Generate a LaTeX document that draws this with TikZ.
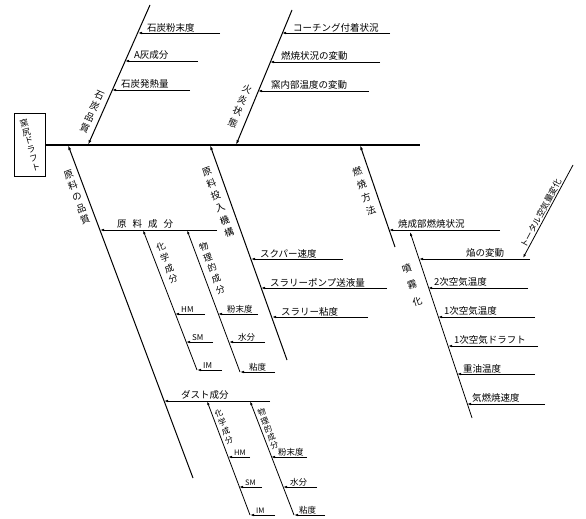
\documentclass[tikz,border=0pt]{standalone}
\usepackage{fontspec}
\setmainfont{Noto Sans CJK JP}
\usetikzlibrary{arrows.meta,positioning}
\tikzset{
    spine/.style={line width=1.3pt},
    bone/.style={line width=1pt, -{Latex[length=5pt,width=3pt]}},
    twig/.style={line width=0.8pt, -{Latex[length=4pt,width=2.6pt]}},
    lbl/.style={inner sep=1pt, font=\fontsize{9.5}{11}\selectfont},
    vlbl/.style={inner sep=0pt, align=center, font=\fontsize{9.5}{12}\selectfont}
}

\begin{document}
\begin{tikzpicture}[x=1pt, y=-1pt, node distance=0pt and 8pt]
    \useasboundingbox (0,0) rectangle (586,519);

    % Head
    \node[draw, line width=0.9pt, minimum width=31pt, minimum height=63pt, inner sep=0pt] (head) at (30,145) {};
    \node[vlbl, rotate=15, font=\fontsize{8.5}{9.2}\selectfont] (headtxt) at (head.center) {窯\\尻\\ド\\ラ\\フ\\ト};
    \coordinate (tail) at (420,145);
    \draw[spine] (head.east) -- (tail);

    % Upper bones
    \coordinate (b1t) at (150,5);
    \coordinate (b1s) at (88,145);
    \draw[bone] (b1t) -- (b1s);
    \node[vlbl, rotate=-24] (b1txt) at (92,112) {石\\炭\\品\\質};

    \coordinate (b2t) at (292,10);
    \coordinate (b2s) at (236,145);
    \draw[bone] (b2t) -- (b2s);
    \node[vlbl, rotate=-23] (b2txt) at (240,106) {火\\炎\\状\\態};

    % Lower bones
    \coordinate (b3e) at (193,478);
    \coordinate (b3s) at (68,145);
    \draw[bone] (b3e) -- (b3s);
    \node[vlbl, rotate=20] (b3txt) at (77,197) {原\\料\\の\\品\\質};

    \coordinate (b4e) at (287,360);
    \coordinate (b4s) at (210,145);
    \draw[bone] (b4e) -- (b4s);
    \node[vlbl, rotate=20, font=\fontsize{9.5}{13}\selectfont] (b4txt) at (218,202) {原\\料\\投\\入\\機\\構};

    \coordinate (b5e) at (395,247);
    \coordinate (b5s) at (360,145);
    \draw[bone] (b5e) -- (b5s);
    \node[vlbl, rotate=19, font=\fontsize{9.5}{14}\selectfont] (b5txt) at (364,191) {燃\\焼\\方\\法};

    % Coal quality
    \coordinate (p11) at (138,33);  \coordinate (e11) at (220,33);
    \draw[twig] (e11) -- (p11);
    \node[lbl, above right=of p11] (t11) {石炭粉末度};
    \coordinate (p12) at (125,61);  \coordinate (e12) at (198,61);
    \draw[twig] (e12) -- (p12);
    \node[lbl, above right=of p12] (t12) {A灰成分};
    \coordinate (p13) at (112,90);  \coordinate (e13) at (190,90);
    \draw[twig] (e13) -- (p13);
    \node[lbl, above right=of p13] (t13) {石炭発熱量};

    % Flame state
    \coordinate (p21) at (282,33);  \coordinate (e21) at (390,33);
    \draw[twig] (e21) -- (p21);
    \node[lbl, above right=0pt and 10pt of p21] (t21) {コーチング付着状況};
    \coordinate (p22) at (270,62);  \coordinate (e22) at (380,62);
    \draw[twig] (e22) -- (p22);
    \node[lbl, above right=0pt and 10pt of p22] (t22) {燃焼状況の変動};
    \coordinate (p23) at (258,91);  \coordinate (e23) at (369,91);
    \draw[twig] (e23) -- (p23);
    \node[lbl, above right=0pt and 12pt of p23] (t23) {窯内部温度の変動};

    % Raw material components
    \coordinate (p30) at (100,230); \coordinate (e30) at (217,230);
    \draw[twig] (e30) -- (p30);
    \node[lbl, above right=0pt and 16pt of p30] (t30) {原\hspace{6pt}料\hspace{6pt}成\hspace{6pt}分};

    \coordinate (c1t) at (143,230); \coordinate (c1e) at (197,370);
    \draw[twig] (c1e) -- (c1t);
    \node[vlbl, rotate=21, font=\fontsize{9}{11.5}\selectfont] (c1txt) at (167,263) {化\\学\\成\\分};
    \coordinate (p31) at (175,314); \coordinate (e31) at (205,314);
    \draw[twig] (e31) -- (p31);
    \node[lbl, above right=0pt and 5pt of p31, font=\fontsize{8}{9}\selectfont] (t31) {HM};
    \coordinate (p32) at (186,342); \coordinate (e32) at (213,342);
    \draw[twig] (e32) -- (p32);
    \node[lbl, above right=0pt and 5pt of p32, font=\fontsize{8}{9}\selectfont] (t32) {SM};
    \coordinate (p33) at (197,370); \coordinate (e33) at (222,370);
    \draw[twig] (e33) -- (p33);
    \node[lbl, above right=0pt and 5pt of p33, font=\fontsize{8}{9}\selectfont] (t33) {IM};

    \coordinate (c2t) at (187,230); \coordinate (c2e) at (240,372);
    \draw[twig] (c2e) -- (c2t);
    \node[vlbl, rotate=21, font=\fontsize{9}{11.5}\selectfont] (c2txt) at (212,268) {物\\理\\的\\成\\分};
    \coordinate (p34) at (218,314); \coordinate (e34) at (258,314);
    \draw[twig] (e34) -- (p34);
    \node[lbl, above right=of p34, font=\fontsize{8.5}{9}\selectfont] (t34) {粉末度};
    \coordinate (p35) at (229,342); \coordinate (e35) at (265,342);
    \draw[twig] (e35) -- (p35);
    \node[lbl, above right=of p35, font=\fontsize{8.5}{9}\selectfont] (t35) {水分};
    \coordinate (p36) at (240,372); \coordinate (e36) at (275,372);
    \draw[twig] (e36) -- (p36);
    \node[lbl, above right=of p36, font=\fontsize{8.5}{9}\selectfont] (t36) {粘度};

    % Dust components
    \coordinate (p40) at (164,401); \coordinate (e40) at (270,401);
    \draw[twig] (e40) -- (p40);
    \node[lbl, above right=0pt and 16pt of p40] (t40) {ダスト成分};

    \coordinate (d1t) at (207,401); \coordinate (d1e) at (250,515);
    \draw[twig] (d1e) -- (d1t);
    \node[vlbl, rotate=21, font=\fontsize{8}{9.5}\selectfont] (d1txt) at (224,427) {化\\学\\成\\分};
    \coordinate (p41) at (228,457); \coordinate (e41) at (250,457);
    \draw[twig] (e41) -- (p41);
    \node[lbl, above right=0pt and 5pt of p41, font=\fontsize{7.5}{9}\selectfont] (t41) {HM};
    \coordinate (p42) at (239,487); \coordinate (e42) at (262,487);
    \draw[twig] (e42) -- (p42);
    \node[lbl, above right=0pt and 5pt of p42, font=\fontsize{7.5}{9}\selectfont] (t42) {SM};
    \coordinate (p43) at (250,515); \coordinate (e43) at (275,515);
    \draw[twig] (e43) -- (p43);
    \node[lbl, above right=0pt and 5pt of p43, font=\fontsize{7.5}{9}\selectfont] (t43) {IM};

    \coordinate (d2t) at (250,401); \coordinate (d2e) at (294,515);
    \draw[twig] (d2e) -- (d2t);
    \node[vlbl, rotate=21, font=\fontsize{8}{8.8}\selectfont] (d2txt) at (268,429) {物\\理\\的\\成\\分};
    \coordinate (p44) at (271,457); \coordinate (e44) at (307,457);
    \draw[twig] (e44) -- (p44);
    \node[lbl, above right=0pt and 6pt of p44, font=\fontsize{8.5}{9}\selectfont] (t44) {粉末度};
    \coordinate (p45) at (283,487); \coordinate (e45) at (317,487);
    \draw[twig] (e45) -- (p45);
    \node[lbl, above right=0pt and 6pt of p45, font=\fontsize{8.5}{9}\selectfont] (t45) {水分};
    \coordinate (p46) at (294,515); \coordinate (e46) at (325,515);
    \draw[twig] (e46) -- (p46);
    \node[lbl, above right=0pt and 4pt of p46, font=\fontsize{8.5}{9}\selectfont] (t46) {粘度};

    % Slurry feed
    \coordinate (p51) at (251,259); \coordinate (e51) at (343,259);
    \draw[twig] (e51) -- (p51);
    \node[lbl, above right=of p51] (t51) {スクパー速度};
    \coordinate (p52) at (261,288); \coordinate (e52) at (387,288);
    \draw[twig] (e52) -- (p52);
    \node[lbl, above right=of p52] (t52) {スラリーポンプ送液量};
    \coordinate (p53) at (272,317); \coordinate (e53) at (368,317);
    \draw[twig] (e53) -- (p53);
    \node[lbl, above right=of p53] (t53) {スラリー粘度};

    % Firing method
    \coordinate (p60) at (389,230); \coordinate (e60) at (500,230);
    \draw[twig] (e60) -- (p60);
    \node[lbl, above right=of p60] (t60) {焼成部燃焼状況};

    \coordinate (f1t) at (410,232); \coordinate (f1e) at (472,418);
    \draw[twig] (f1e) -- (f1t);
    \node[vlbl, rotate=18, font=\fontsize{9.5}{17}\selectfont] (f1txt) at (412,285) {噴\\霧\\化};
    \coordinate (p61) at (419,259); \coordinate (e61) at (530,259);
    \draw[twig] (e61) -- (p61);
    \node[lbl, above right=0pt and 46pt of p61] (t61) {焔の変動};
    \coordinate (p62) at (428,288); \coordinate (e62) at (528,288);
    \draw[twig] (e62) -- (p62);
    \node[lbl, above right=0pt and 5pt of p62] (t62) {2次空気温度};
    \coordinate (p63) at (438,317); \coordinate (e63) at (535,317);
    \draw[twig] (e63) -- (p63);
    \node[lbl, above right=0pt and 5pt of p63] (t63) {1次空気温度};
    \coordinate (p64) at (448,346); \coordinate (e64) at (538,346);
    \draw[twig] (e64) -- (p64);
    \node[lbl, above right=0pt and 5pt of p64] (t64) {1次空気ドラフト};
    \coordinate (p65) at (457,374); \coordinate (e65) at (535,374);
    \draw[twig] (e65) -- (p65);
    \node[lbl, above right=0pt and 5pt of p65] (t65) {重油温度};
    \coordinate (p66) at (467,404); \coordinate (e66) at (545,404);
    \draw[twig] (e66) -- (p66);
    \node[lbl, above right=0pt and 4pt of p66] (t66) {気燃焼速度};

    % Total air
    \coordinate (ta) at (573,165);
    \coordinate (tb) at (523,258);
    \draw[twig] (ta) -- node[lbl, sloped, above, pos=0.55, font=\fontsize{8.5}{10}\selectfont] (tatxt) {トータル空気量変化} (tb);
\end{tikzpicture}
\end{document}
